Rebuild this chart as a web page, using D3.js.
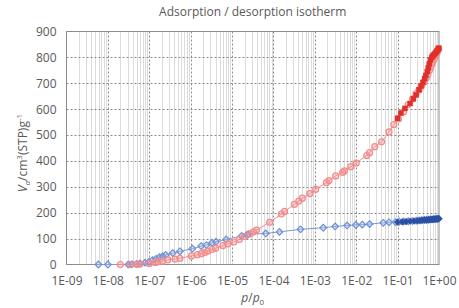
<!DOCTYPE html>
<html>
<head>
<meta charset="utf-8">
<script src="https://cdn.jsdelivr.net/npm/d3@7"></script>
<style>
  body { margin: 0; background: #fff; }
  text { font-family: "Open Sans", sans-serif; fill: #595959; }
</style>
</head>
<body>
<div id="chart"></div>
<script>
// data: relative pressure p/p0 and adsorbed volume (cm3(STP)/g)
const redAdsP = [2.0e-8, 3.5e-8, 5e-8, 5.9e-8, 1.0e-7, 1.4e-7, 1.6e-7, 2.1e-7, 2.8e-7, 4.2e-7, 5.5e-7,
  1.05e-6, 1.45e-6, 1.8e-6, 2.2e-6, 2.6e-6, 3.3e-6, 4.0e-6, 6.0e-6, 7.9e-6,
  1.1e-5, 1.5e-5, 2.0e-5, 2.7e-5, 3.3e-5, 3.9e-5, 8.1e-5,
  1.55e-4, 1.86e-4, 3.2e-4, 4.1e-4, 5.0e-4, 7.6e-4,
  1.05e-3, 1.9e-3, 2.2e-3, 3.2e-3, 4.7e-3, 5.2e-3, 7.4e-3,
  1.0e-2, 1.8e-2, 2.1e-2, 2.8e-2, 4.1e-2, 6.2e-2, 8.1e-2,
  0.105, 0.14, 0.18, 0.23, 0.28, 0.33, 0.38, 0.44, 0.49, 0.54, 0.59, 0.63, 0.68, 0.72, 0.78, 0.83, 0.89, 0.93, 0.98];
const redAdsV = [0, 0, 1, 2, 4, 8, 11, 13, 18, 21, 24,
  33, 38, 42, 46, 52, 58, 63, 73, 80,
  87, 97, 108, 118, 126, 133, 163,
  195, 205, 232, 245, 256, 274,
  291, 316, 324, 342, 356, 362, 378,
  392, 421, 432, 455, 474, 512, 540,
  562, 590, 618, 640, 660, 674, 690, 706, 720, 735, 750, 762, 775, 785, 797, 808, 818, 825, 832];

const redDesP = [0.99, 0.95, 0.9, 0.85, 0.8, 0.75, 0.7, 0.67, 0.62, 0.58, 0.55, 0.52, 0.48, 0.45, 0.41, 0.37, 0.33, 0.28, 0.24, 0.2, 0.15, 0.12, 0.1];
const redDesV = [836, 832, 826, 820, 815, 810, 805, 800, 790, 775, 760, 745, 730, 718, 703, 690, 675, 655, 640, 622, 603, 585, 565];

const blueAdsP = [5.9e-9, 1.0e-8, 3.1e-8, 3.8e-8, 4.9e-8, 6e-8, 7.9e-8, 9.8e-8, 1.2e-7, 1.45e-7, 1.75e-7, 2.1e-7, 2.5e-7, 3.7e-7, 5.5e-7,
  1.1e-6, 1.8e-6, 2.4e-6, 3.3e-6, 4.1e-6, 7.2e-6, 1.7e-5, 2.3e-5, 2.45e-5, 6.5e-5,
  1.4e-4, 4.5e-4, 1.6e-3, 3.1e-3, 6.0e-3, 9.8e-3, 1.4e-2, 2.1e-2, 4.5e-2, 6.2e-2, 8.9e-2,
  0.11, 0.14, 0.18, 0.23, 0.28, 0.33, 0.38, 0.44, 0.5, 0.56, 0.62, 0.68, 0.74, 0.8, 0.86, 0.92, 0.98];
const blueAdsV = [0, 0, 0, 1, 2, 4, 7, 10, 17, 22, 28, 32, 37, 44, 51,
  61, 71, 75, 84, 88, 97, 110, 114, 117, 120,
  126, 136, 142, 147, 151, 153, 154, 156, 161, 163, 164,
  165, 166, 167, 168, 169, 170, 171, 172, 172, 173, 174, 174, 175, 175, 176, 176, 177];

const blueDesP = [0.99, 0.95, 0.9, 0.85, 0.8, 0.75, 0.7, 0.65, 0.6, 0.55, 0.5, 0.45, 0.4, 0.35, 0.3, 0.25, 0.2, 0.16, 0.13, 0.1];
const blueDesV = [177, 177, 176, 176, 175, 175, 174, 174, 173, 173, 172, 172, 171, 170, 169, 168, 167, 166, 165, 164];

const xTicks = [1e-9, 1e-8, 1e-7, 1e-6, 1e-5, 1e-4, 1e-3, 1e-2, 1e-1, 1];
const xTickLabels = ["1E-09", "1E-08", "1E-07", "1E-06", "1E-05", "1E-04", "1E-03", "1E-02", "1E-01", "1E+00"];
const yTicks = [0, 100, 200, 300, 400, 500, 600, 700, 800, 900];

const W = 459, H = 308;
const margin = {top: 31.5, right: 20, bottom: 43.5, left: 66.5};
const plotL = margin.left, plotR = W - margin.right, plotT = margin.top, plotB = H - margin.bottom;

const svg = d3.select("#chart").append("svg")
    .attr("width", W)
    .attr("height", H);

const x = d3.scaleLog().domain([1e-9, 1]).range([plotL, plotR]);
const y = d3.scaleLinear().domain([0, 900]).range([plotB, plotT]);

// minor vertical gridlines
const minor = [];
for (let d = -9; d < 0; d++) for (let k = 2; k <= 9; k++) minor.push(k * Math.pow(10, d));
svg.append("g").selectAll("line").data(minor).join("line")
    .attr("x1", d => Math.round(x(d)) + 0.5).attr("x2", d => Math.round(x(d)) + 0.5)
    .attr("y1", plotT).attr("y2", plotB)
    .attr("stroke", "#dcdcdc").attr("stroke-width", 1);

// major gridlines (dashed)
svg.append("g").selectAll("line").data(xTicks.slice(1, -1)).join("line")
    .attr("x1", d => Math.round(x(d)) + 0.5).attr("x2", d => Math.round(x(d)) + 0.5)
    .attr("y1", plotT).attr("y2", plotB)
    .attr("stroke", "#8a8a8a").attr("stroke-dasharray", "2,2");
svg.append("g").selectAll("line").data(yTicks.slice(1, -1)).join("line")
    .attr("x1", plotL).attr("x2", plotR)
    .attr("y1", d => Math.round(y(d)) + 0.5).attr("y2", d => Math.round(y(d)) + 0.5)
    .attr("stroke", "#8a8a8a").attr("stroke-dasharray", "2,2");

// plot border
svg.append("rect")
    .attr("x", plotL).attr("y", plotT)
    .attr("width", plotR - plotL).attr("height", plotB - plotT)
    .attr("fill", "none").attr("stroke", "#8c8c8c");

// axes
const xAxis = svg.append("g")
    .attr("transform", `translate(0,${plotB})`)
    .call(d3.axisBottom(x).tickValues(xTicks).tickFormat((d, i) => xTickLabels[i]).tickSize(0).tickPadding(12));
const yAxis = svg.append("g")
    .attr("transform", `translate(${plotL},0)`)
    .call(d3.axisLeft(y).tickValues(yTicks).tickSize(0).tickPadding(10));
[xAxis, yAxis].forEach(a => {
  a.select(".domain").remove();
  a.selectAll("text").style("font-size", "12px").style("fill", "#595959").style("font-family", "'Open Sans', sans-serif");
});

// series
const line = d3.line().x(d => x(d[0])).y(d => y(d[1]));
const zip = (p, v) => p.map((d, i) => [d, v[i]]);

const redAds = zip(redAdsP, redAdsV);
const redDes = zip(redDesP, redDesV);
const blueAds = zip(blueAdsP, blueAdsV);
const blueDes = zip(blueDesP, blueDesV);

svg.append("path").datum(blueAds).attr("d", line)
    .attr("fill", "none").attr("stroke", "#7b98d6").attr("stroke-width", 1);
svg.append("path").datum(redAds).attr("d", line)
    .attr("fill", "none").attr("stroke", "#f08c8c").attr("stroke-width", 1);

// square rotated 45 degrees -> diamond
const diamond = d3.symbol().type(d3.symbolSquare).size(22);

svg.append("g").selectAll("path").data(blueAds).join("path")
    .attr("d", diamond)
    .attr("transform", d => `translate(${x(d[0])},${y(d[1])}) rotate(45)`)
    .attr("fill", "rgba(160,185,235,0.35)").attr("stroke", "#6f8fd2").attr("stroke-width", 1.2);

svg.append("g").selectAll("circle").data(redAds).join("circle")
    .attr("cx", d => x(d[0])).attr("cy", d => y(d[1])).attr("r", 3)
    .attr("fill", "rgba(245,150,150,0.35)").attr("stroke", "#f28a8a").attr("stroke-width", 1.2);

svg.append("path").datum(redDes).attr("d", line)
    .attr("fill", "none").attr("stroke", "#e0302a").attr("stroke-width", 1);
svg.append("g").selectAll("rect").data(redDes).join("rect")
    .attr("x", d => x(d[0]) - 2.75).attr("y", d => y(d[1]) - 2.75)
    .attr("width", 5.5).attr("height", 5.5)
    .attr("fill", "#e0302a");

svg.append("path").datum(blueDes).attr("d", line)
    .attr("fill", "none").attr("stroke", "#2a4fa3").attr("stroke-width", 1);
svg.append("g").selectAll("path").data(blueDes).join("path")
    .attr("d", d3.symbol().type(d3.symbolSquare).size(26))
    .attr("transform", d => `translate(${x(d[0])},${y(d[1])}) rotate(45)`)
    .attr("fill", "#2a4fa3");

// title
svg.append("text")
    .attr("x", (plotL + plotR) / 2).attr("y", 16)
    .attr("text-anchor", "middle")
    .style("font-size", "12px")
    .text("Adsorption / desorption isotherm");

// x label: p/p0
const xl = svg.append("text")
    .attr("x", (plotL + plotR) / 2).attr("y", 302)
    .attr("text-anchor", "middle")
    .style("font-size", "12px");
xl.append("tspan").style("font-style", "italic").text("p");
xl.append("tspan").text("/");
xl.append("tspan").style("font-style", "italic").text("p");
xl.append("tspan").attr("dy", 3).style("font-size", "8px").text("0");

// y label: Va/cm3(STP)g-1
const yl = svg.append("text")
    .attr("transform", `translate(27,153) rotate(-90)`)
    .attr("text-anchor", "middle")
    .style("font-size", "12px");
yl.append("tspan").style("font-style", "italic").text("V");
yl.append("tspan").attr("dy", 3).style("font-size", "8px").style("font-style", "italic").text("a");
yl.append("tspan").attr("dy", -3).text("/cm");
yl.append("tspan").attr("dy", -5).style("font-size", "8px").text("3");
yl.append("tspan").attr("dy", 5).text("(STP)g");
yl.append("tspan").attr("dy", -5).style("font-size", "8px").text("-1");
</script>
</body>
</html>
